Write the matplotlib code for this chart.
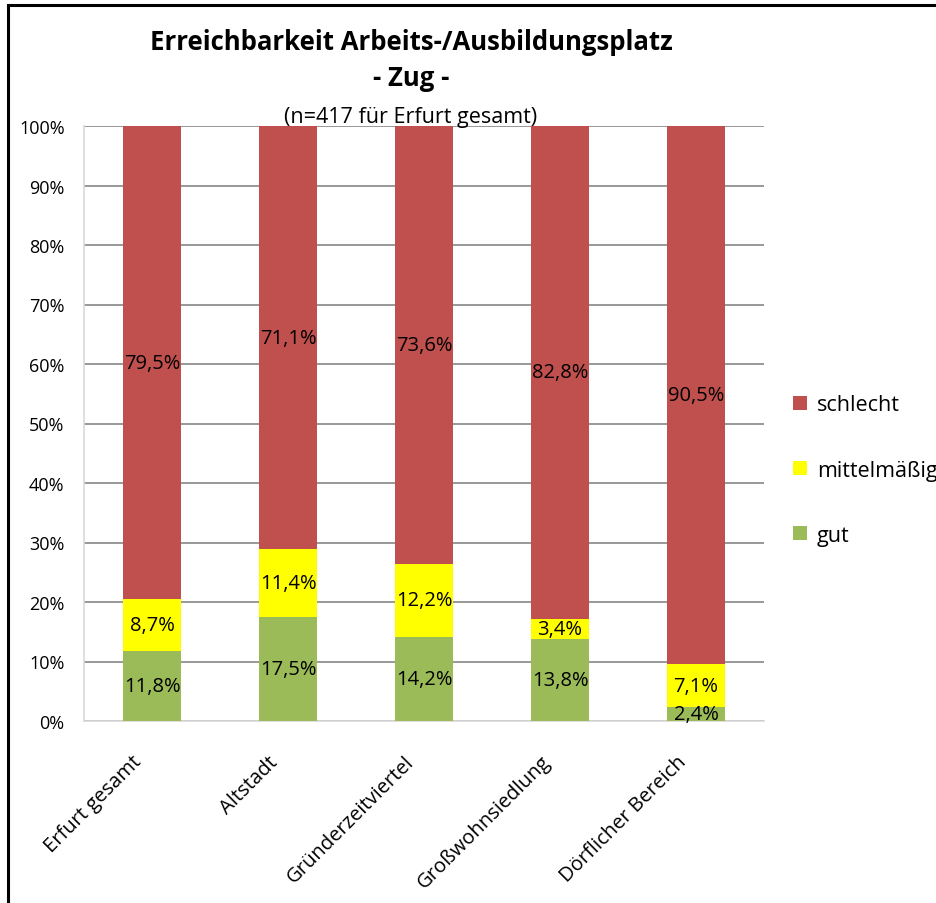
import matplotlib
matplotlib.use("Agg")
import matplotlib.pyplot as plt
from matplotlib.patches import Rectangle
import matplotlib.transforms as mtransforms
import numpy as np

categories = ["Erfurt gesamt", "Altstadt", "Gründerzeitviertel", "Großwohnsiedlung", "Dörflicher Bereich"]
gut = [11.8, 17.5, 14.2, 13.8, 2.4]
mittel = [8.7, 11.4, 12.2, 3.4, 7.1]
schlecht = [79.5, 71.1, 73.6, 82.8, 90.5]
series_names = ["gut", "mittelmäßig", "schlecht"]
colors = ["#9BBB59", "#FFFF00", "#C0504D"]
yticks = [0, 10, 20, 30, 40, 50, 60, 70, 80, 90, 100]

plt.rcParams['font.family'] = ['Open Sans', 'DejaVu Sans']

W, H = 936, 904
fig = plt.figure(figsize=(W/100, H/100), dpi=100)
ax = fig.add_axes([84/W, 1-722/H, 680/W, 595/H])

x = np.arange(len(categories))
bw = 0.42
bottoms = np.zeros(len(categories))
handles = []
for name, vals, c in zip(series_names, [gut, mittel, schlecht], colors):
    vals = np.array(vals)
    b = ax.bar(x, vals, bw, bottom=bottoms, color=c, label=name, zorder=3)
    handles.append(b)
    for xi, v, bt in zip(x, vals, bottoms):
        ax.text(xi, bt + v/2, f"{v:.1f}%".replace(".", ","), ha="center", va="center",
                fontsize=14.5, zorder=4, color="black")
    bottoms += vals

ax.set_xlim(-0.5, len(categories)-0.5)
ax.set_ylim(0, 100)
ax.set_yticks(yticks)
ax.set_yticklabels([f"{t}%" for t in yticks], fontsize=13)
ax.tick_params(axis='y', length=0, pad=14)
ax.tick_params(axis='x', length=0)
ax.set_xticks(x)
ax.set_xticklabels(categories, rotation=45, ha="right", va="center", rotation_mode="anchor", fontsize=14.5)
offset = mtransforms.ScaledTranslation(-13/100, 0, fig.dpi_scale_trans)
for lbl in ax.get_xticklabels():
    lbl.set_y(-0.055)
    lbl.set_transform(lbl.get_transform() + offset)
ax.yaxis.grid(True, color="#868686", linewidth=1.2, zorder=0)
for s in ["top", "right"]:
    ax.spines[s].set_visible(False)
for s in ["left", "bottom"]:
    ax.spines[s].set_color("#D9D9D9")
    ax.spines[s].set_linewidth(1.2)

fig.text(411/W, 1-42/H, "Erreichbarkeit Arbeits-/Ausbildungsplatz", ha="center", va="center",
         fontsize=18.5, fontweight="bold")
fig.text(411/W, 1-79/H, "- Zug -", ha="center", va="center", fontsize=18.5, fontweight="bold")
fig.text(411/W, 1-117/H, "(n=417 für Erfurt gesamt)", ha="center", va="center", fontsize=15.5)

leg = fig.legend(handles[::-1], series_names[::-1], loc="center left",
                 bbox_to_anchor=(774/W, 1-471/H), frameon=False, fontsize=15.5,
                 handlelength=0.65, handleheight=0.65, labelspacing=2.05, handletextpad=0.45)

fig.patches.append(Rectangle((8/W, -0.1), 1.2, 1-6/H+0.1, transform=fig.transFigure,
                             fill=False, edgecolor="black", linewidth=2.2))

fig.savefig("out.png", dpi=100)
